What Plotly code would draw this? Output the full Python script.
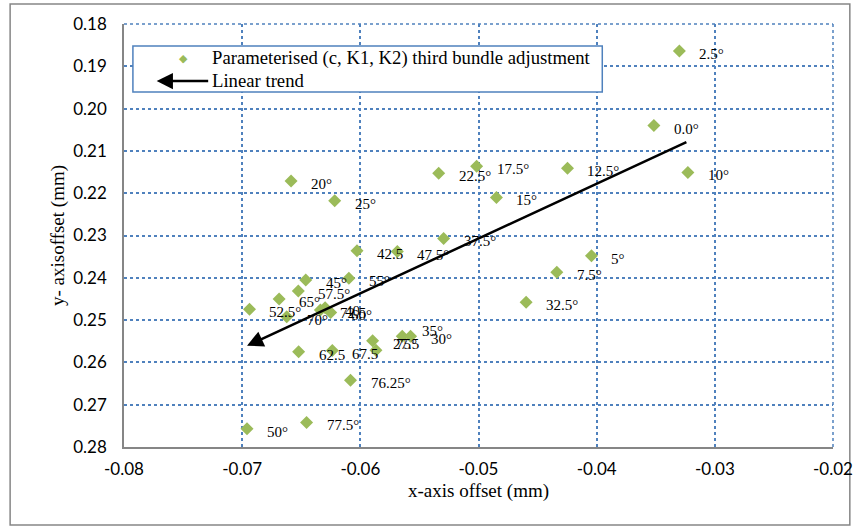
import numpy as np
import plotly.graph_objects as go

# ---- data ----
labels = ["0.0°", "2.5°", "5°", "7.5°", "10°", "12.5°", "15°", "17.5°", "20°", "22.5°",
          "25°", "27.5", "30°", "32.5°", "35°", "37.5°", "40", "42.5", "45°", "47.5°",
          "50°", "52.5°", "55°", "57.5°", "60°", "62.5", "65°", "67.5", "70°", "72.5",
          "75°", "76.25°", "77.5°"]
x_offset = [-0.03516, -0.03300, -0.04044, -0.04337, -0.03228, -0.04247, -0.04848, -0.05016,
            -0.06586, -0.05337, -0.06217, -0.05896, -0.05575, -0.04597, -0.05645, -0.05295,
            -0.06298, -0.06028, -0.06462, -0.05687, -0.06959, -0.06938, -0.06097, -0.06525,
            -0.06251, -0.06522, -0.06687, -0.06237, -0.06623, -0.06338, -0.05868, -0.06083,
            -0.06455]
y_offset = [0.2040, 0.1864, 0.2348, 0.2387, 0.2151, 0.2141, 0.2210, 0.2136,
            0.2171, 0.2153, 0.2218, 0.2549, 0.2538, 0.2458, 0.2538, 0.2307,
            0.2471, 0.2336, 0.2405, 0.2338, 0.2757, 0.24745, 0.2401, 0.2431,
            0.2482, 0.2575, 0.2450, 0.2572, 0.2492, 0.2476, 0.2571, 0.2642,
            0.2742]

x_ticks = [-0.08, -0.07, -0.06, -0.05, -0.04, -0.03, -0.02]
x_tick_labels = ["-0.08", "-0.07", "-0.06", "-0.05", "-0.04", "-0.03", "-0.02"]
y_ticks = [0.18, 0.19, 0.20, 0.21, 0.22, 0.23, 0.24, 0.25, 0.26, 0.27, 0.28]
y_tick_labels = ["0.18", "0.19", "0.20", "0.21", "0.22", "0.23", "0.24", "0.25", "0.26", "0.27", "0.28"]

series_name = "Parameterised (c, K1, K2) third bundle adjustment"
trend_name = "Linear trend"

# label nudges (pixels) for overlapping labels
label_dy = {"35°": 8, "75°": 9}

GREEN = "#9BBB59"
GRID = "#4F81BD"
AXIS = "#868686"

# ---- linear trend (least squares) ----
xa = np.array(x_offset)
ya = np.array(y_offset)
b, a = np.polyfit(xa, ya, 1)
tx0, tx1 = xa.min(), xa.max()
ty0, ty1 = a + b * tx0, a + b * tx1

fig = go.Figure()
fig.add_trace(go.Scatter(
    x=x_offset, y=y_offset, mode="markers",
    marker=dict(symbol="diamond", size=10, color=GREEN),
    name=series_name, showlegend=False, hoverinfo="x+y"))

annotations = []
for lab, xv, yv in zip(labels, x_offset, y_offset):
    annotations.append(dict(
        x=xv, y=yv, xref="x", yref="y", text=lab, showarrow=False,
        xanchor="left", yanchor="middle", xshift=18, yshift=-3 + label_dy.get(lab, 0),
        font=dict(family="Liberation Serif", size=15, color="black")))

# trend arrow (head at the low-x end)
annotations.append(dict(
    x=tx0, y=ty0, ax=tx1, ay=ty1, xref="x", yref="y", axref="x", ayref="y",
    text="", showarrow=True, arrowhead=2, arrowsize=1.3, arrowwidth=2.5,
    arrowcolor="black", standoff=0, startstandoff=0))

# ---- hand-built legend ----
def px2x(px):
    return (px - 124) / 716.0

def py2y(py):
    return (447 - py) / 423.0

shapes = [
    dict(type="rect", xref="paper", yref="paper",
         x0=px2x(9), x1=px2x(857), y0=py2y(525), y1=py2y(4),
         line=dict(color=AXIS, width=1.5), fillcolor="rgba(0,0,0,0)", layer="below"),
    dict(type="rect", xref="paper", yref="paper",
         x0=px2x(133), x1=px2x(607), y0=py2y(92), y1=py2y(46),
         line=dict(color=GRID, width=1.5), fillcolor="white", layer="above"),
]
annotations.append(dict(
    x=px2x(184), y=py2y(58), xref="paper", yref="paper", text="◆", showarrow=False,
    font=dict(family="DejaVu Sans", size=11, color=GREEN), xanchor="center", yanchor="middle"))
annotations.append(dict(
    x=px2x(211), y=py2y(58), xref="paper", yref="paper", text=series_name, showarrow=False,
    font=dict(family="Liberation Serif", size=18.7, color="black"), xanchor="left", yanchor="middle"))
annotations.append(dict(
    x=px2x(211), y=py2y(81), xref="paper", yref="paper", text=trend_name, showarrow=False,
    font=dict(family="Liberation Serif", size=18.7, color="black"), xanchor="left", yanchor="middle"))
annotations.append(dict(
    x=px2x(157), y=py2y(81), xref="paper", yref="paper", text="", showarrow=True,
    ax=53, ay=0, arrowhead=2, arrowsize=1.3, arrowwidth=2.5, arrowcolor="black",
    standoff=0, startstandoff=0))

fig.update_layout(
    width=865, height=529,
    margin=dict(l=124, r=25, t=24, b=82),
    paper_bgcolor="white", plot_bgcolor="white",
    showlegend=False,
    annotations=annotations, shapes=shapes,
    xaxis=dict(range=[-0.08, -0.02], tickvals=x_ticks, ticktext=x_tick_labels,
               showgrid=True, gridcolor=GRID, griddash="dot", gridwidth=1.5,
               zeroline=False, showline=True, linecolor=AXIS, linewidth=1.5,
               ticks="outside", ticklen=6, tickcolor="rgba(0,0,0,0)",
               tickfont=dict(family="Lato", size=17, color="black"),
               title=dict(text="x-axis offset (mm)", standoff=6,
                          font=dict(family="Liberation Serif", size=19, color="black"))),
    yaxis=dict(range=[0.28, 0.18], tickvals=y_ticks, ticktext=y_tick_labels,
               showgrid=True, gridcolor=GRID, griddash="dot", gridwidth=1.5,
               zeroline=False, showline=True, linecolor=AXIS, linewidth=1.5,
               ticks="outside", ticklen=12, tickcolor="rgba(0,0,0,0)",
               tickfont=dict(family="Lato", size=17, color="black"),
               title=dict(text="y- axisoffset (mm)", standoff=4,
                          font=dict(family="Liberation Serif", size=19, color="black"))),
)
# dotted top and right border lines (grid at the edges)
fig.add_shape(type="line", xref="paper", yref="paper", x0=0, x1=1, y0=1, y1=1,
              line=dict(color=GRID, width=1.5, dash="dot"))
fig.add_shape(type="line", xref="paper", yref="paper", x0=1, x1=1, y0=0, y1=1,
              line=dict(color=GRID, width=1.5, dash="dot"))

fig.write_html("out.html", config={"displayModeBar": False},
               post_script="document.body.style.margin='0';document.body.style.padding='0';")
